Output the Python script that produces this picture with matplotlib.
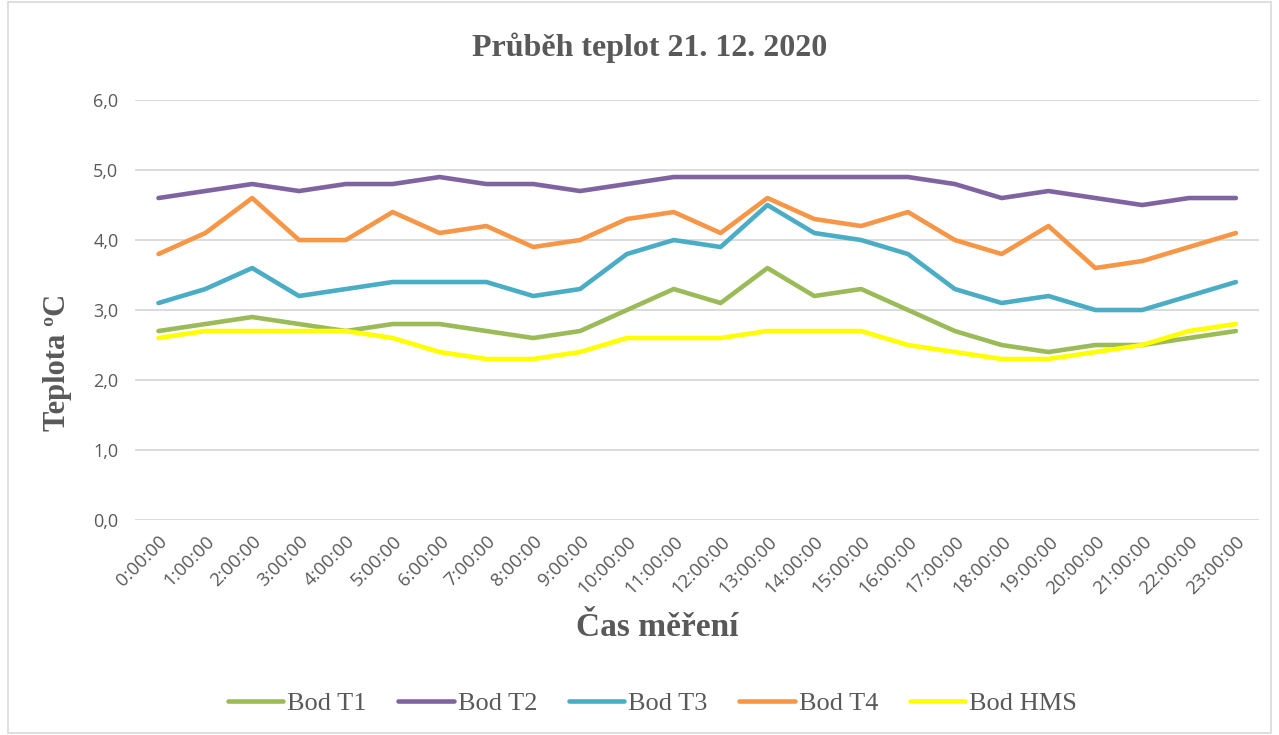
import matplotlib
matplotlib.use("Agg")
import matplotlib.pyplot as plt
from matplotlib.patches import Rectangle

# hours of the day
hours = [f"{h}:00:00" for h in range(24)]

t1 = [2.7, 2.8, 2.9, 2.8, 2.7, 2.8, 2.8, 2.7, 2.6, 2.7, 3.0, 3.3,
      3.1, 3.6, 3.2, 3.3, 3.0, 2.7, 2.5, 2.4, 2.5, 2.5, 2.6, 2.7]
t2 = [4.6, 4.7, 4.8, 4.7, 4.8, 4.8, 4.9, 4.8, 4.8, 4.7, 4.8, 4.9,
      4.9, 4.9, 4.9, 4.9, 4.9, 4.8, 4.6, 4.7, 4.6, 4.5, 4.6, 4.6]
t3 = [3.1, 3.3, 3.6, 3.2, 3.3, 3.4, 3.4, 3.4, 3.2, 3.3, 3.8, 4.0,
      3.9, 4.5, 4.1, 4.0, 3.8, 3.3, 3.1, 3.2, 3.0, 3.0, 3.2, 3.4]
t4 = [3.8, 4.1, 4.6, 4.0, 4.0, 4.4, 4.1, 4.2, 3.9, 4.0, 4.3, 4.4,
      4.1, 4.6, 4.3, 4.2, 4.4, 4.0, 3.8, 4.2, 3.6, 3.7, 3.9, 4.1]
hms = [2.6, 2.7, 2.7, 2.7, 2.7, 2.6, 2.4, 2.3, 2.3, 2.4, 2.6, 2.6,
       2.6, 2.7, 2.7, 2.7, 2.5, 2.4, 2.3, 2.3, 2.4, 2.5, 2.7, 2.8]

series = [
    ("Bod T1", t1, "#9BBB59"),
    ("Bod T2", t2, "#8064A2"),
    ("Bod T3", t3, "#4BACC6"),
    ("Bod T4", t4, "#F79646"),
    ("Bod HMS", hms, "#FFFF00"),
]

txt = "#595959"
serif = "Liberation Serif"

fig = plt.figure(figsize=(12.79, 7.35), dpi=100)
ax = fig.add_axes([0.1056, 0.2925, 0.879, 0.5714])

x = list(range(len(hours)))
for name, vals, col in series:
    ax.plot(x, vals, color=col, linewidth=3.3, label=name,
            solid_capstyle="round", solid_joinstyle="round")

ax.set_xlim(-0.5, 23.5)
ax.set_ylim(0, 6)
ax.set_yticks([0, 1, 2, 3, 4, 5, 6])
ax.set_yticklabels([f"{v},0" for v in range(7)], fontsize=13,
                   color=txt, family="Open Sans")
ax.set_xticks(x)
ax.set_xticklabels(hours, rotation=45, ha="right", rotation_mode="anchor",
                   fontsize=13.5, color=txt, family="Open Sans")
ax.tick_params(length=0, axis="both")
ax.tick_params(axis="y", pad=12)
ax.tick_params(axis="x", pad=9)

ax.grid(axis="y", color="#d9d9d9", linewidth=1.3)
ax.set_axisbelow(True)
for s in ax.spines.values():
    s.set_visible(False)

# titles placed like in the excel chart
fig.text(0.508, 0.935, "Průběh teplot 21. 12. 2020", fontsize=23,
         fontweight="bold", color=txt, family=serif, ha="center", va="center")
fig.text(0.045, 0.507, "Teplota ºC", fontsize=22, fontweight="bold",
         color=txt, family=serif, rotation=90, ha="center", va="center")
fig.text(0.514, 0.146, "Čas měření", fontsize=24, fontweight="bold",
         color=txt, family=serif, ha="center", va="center")

leg = fig.legend(loc="center", bbox_to_anchor=(0.51, 0.043), ncol=5,
                 frameon=False, handlelength=2.1, columnspacing=1.2,
                 handletextpad=0.15,
                 prop={"family": serif, "size": 19})
for t in leg.get_texts():
    t.set_color(txt)
for h in leg.legend_handles:
    h.set_solid_capstyle("round")

# chart area border
fig.patches.append(Rectangle((0.006, 0.003), 0.988, 0.994,
                             transform=fig.transFigure, fill=False,
                             edgecolor="#d9d9d9", linewidth=1.2))

fig.savefig("out.png", dpi=100)
